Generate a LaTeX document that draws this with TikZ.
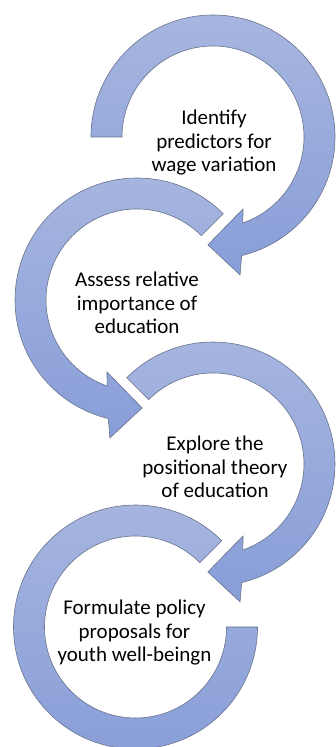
\documentclass[tikz,border=0pt]{standalone}
\usepackage{fontspec}
\setmainfont{Carlito}
\usetikzlibrary{calc}
\definecolor{ringtop}{RGB}{167,182,224}
\definecolor{ringbot}{RGB}{136,158,216}
\definecolor{ringline}{RGB}{105,115,140}
\tikzset{
  ringshape/.style={draw=ringline, line width=0.6pt, top color=ringtop, bottom color=ringbot, line join=miter},
  ringlabel/.style={align=center, font=\fontsize{21}{23.5}\selectfont, text=black, inner sep=0pt},
}
\begin{document}
\begin{tikzpicture}[x=1pt,y=1pt]
\useasboundingbox (0,0) rectangle (335,747);
\coordinate (c1) at (213,610);
\coordinate (c2) at (137,447);
\coordinate (c3) at (213,283);
\coordinate (c4) at (135.5,120);

% ring 1 (clockwise, flat tail at left)
\path[ringshape] ($(c1)+(180:122)$) arc[start angle=180, end angle=-76.4, radius=122]
  -- ($(c1)+(-78.9:140.6)$) -- ($(c1)+(-92.7:108)$) -- ($(c1)+(-67.4:78)$) -- ($(c1)+(-70.8:91)$)
  arc[start angle=-70.8, end angle=180, radius=91] -- cycle;

% ring 2 (counter-clockwise)
\path[ringshape] ($(c2)+(45:122)$) arc[start angle=45, end angle=256.4, radius=122]
  -- ($(c2)+(258.9:140.6)$) -- ($(c2)+(272.7:108)$) -- ($(c2)+(247.4:78)$) -- ($(c2)+(250.8:91)$)
  arc[start angle=250.8, end angle=45, radius=91] -- cycle;

% ring 3 (clockwise)
\path[ringshape] ($(c3)+(135:122)$) arc[start angle=135, end angle=-76.4, radius=122]
  -- ($(c3)+(-78.9:140.6)$) -- ($(c3)+(-92.7:108)$) -- ($(c3)+(-67.4:78)$) -- ($(c3)+(-70.8:91)$)
  arc[start angle=-70.8, end angle=135, radius=91] -- cycle;

% ring 4 (counter-clockwise, flat end at right)
\path[ringshape] ($(c4)+(45:122)$) arc[start angle=45, end angle=360, radius=122]
  -- ($(c4)+(0:91)$)
  arc[start angle=360, end angle=45, radius=91] -- cycle;

\node[ringlabel] (t1) at (214,604) {Identify\\predictors for\\wage variation};
\node[ringlabel] (t2) at (137,444) {Assess relative\\importance of\\education};
\node[ringlabel] (t3) at (215,280) {Explore the\\positional theory\\of education};
\node[ringlabel] (t4) at (134.5,114) {Formulate policy\\proposals for\\youth well-beingn};
\end{tikzpicture}
\end{document}
